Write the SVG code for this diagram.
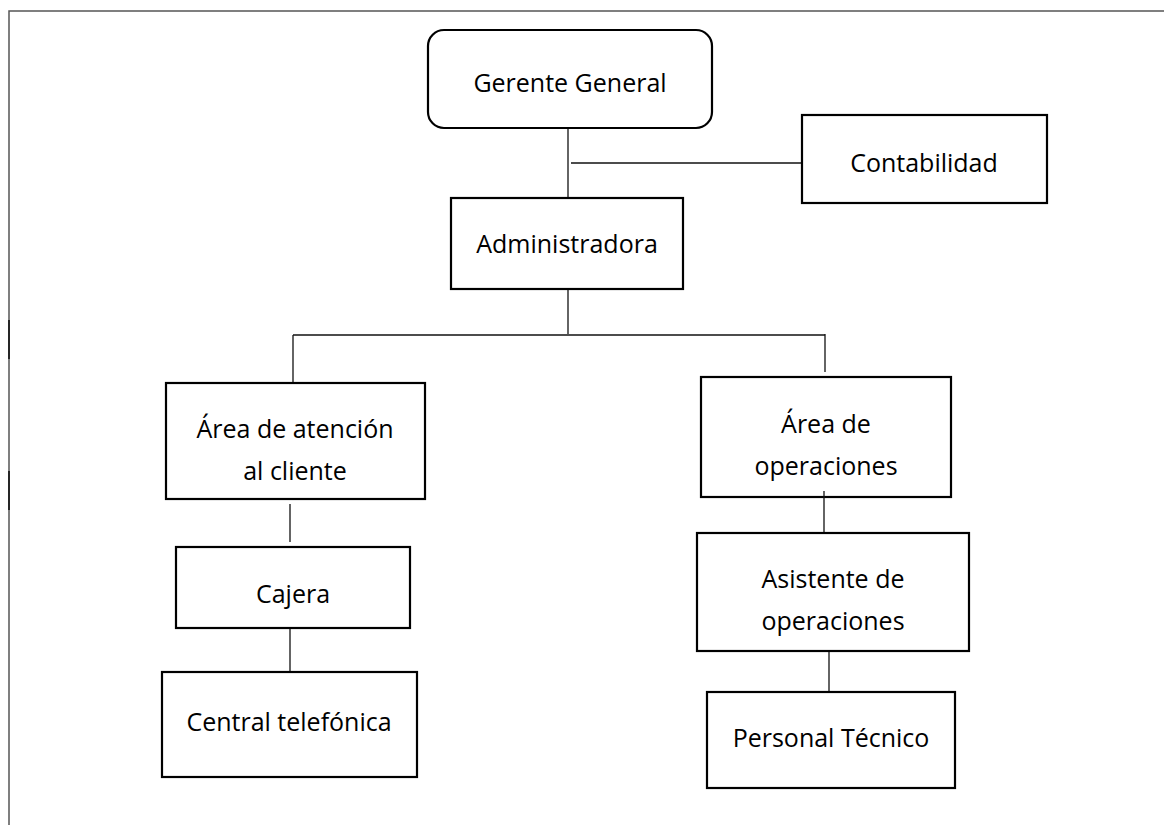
<svg xmlns="http://www.w3.org/2000/svg" width="1164" height="825" viewBox="0 0 1164 825">
<style>
.box{fill:#fff;stroke:#000;stroke-width:2.2}
.t{font-family:"Open Sans","Noto Sans",sans-serif;font-size:25px;fill:#000;text-anchor:middle}
.c{stroke:#111;stroke-width:1.3;fill:none}
.frame{stroke:#555;stroke-width:1.5;fill:none}
</style>
<rect width="1164" height="825" fill="#fff"/>
<g id="frame">
<path class="frame" d="M9,825 V11 H1164"/>
<path d="M9,320 V359 M9,471 V510" stroke="#111" stroke-width="1.6"/>
</g>
<g id="gerente">
<rect class="box" x="428" y="30" width="284" height="98" rx="16"/>
<text class="t" x="570" y="92">Gerente General</text>
</g>
<g id="contabilidad">
<rect class="box" x="802" y="115" width="245" height="88"/>
<text class="t" x="924" y="172">Contabilidad</text>
</g>
<g id="administradora">
<rect class="box" x="451" y="198" width="232" height="91"/>
<text class="t" x="567" y="253">Administradora</text>
</g>
<g id="atencion">
<rect class="box" x="166" y="383" width="259" height="116"/>
<text class="t" x="295" y="438">Área de atención</text>
<text class="t" x="295" y="480">al cliente</text>
</g>
<g id="operaciones">
<rect class="box" x="701" y="377" width="250" height="120"/>
<text class="t" x="826" y="433">Área de</text>
<text class="t" x="826" y="475">operaciones</text>
</g>
<g id="cajera">
<rect class="box" x="176" y="547" width="234" height="81"/>
<text class="t" x="293" y="603">Cajera</text>
</g>
<g id="central">
<rect class="box" x="162" y="672" width="255" height="105"/>
<text class="t" x="289" y="731">Central telefónica</text>
</g>
<g id="asistente">
<rect class="box" x="697" y="533" width="272" height="118"/>
<text class="t" x="833" y="588">Asistente de</text>
<text class="t" x="833" y="630">operaciones</text>
</g>
<g id="personal">
<rect class="box" x="707" y="692" width="248" height="96"/>
<text class="t" x="831" y="747">Personal Técnico</text>
</g>
<g id="connectors">
<path class="c" d="M568,129 V197"/>
<path class="c" d="M571,163 H801"/>
<path class="c" d="M568,290 V334"/>
<path class="c" d="M293,335 H825"/>
<path class="c" d="M293,335 V382"/>
<path class="c" d="M825,334 V372"/>
<path class="c" d="M290,504 V542"/>
<path class="c" d="M824,491 V532"/>
<path class="c" d="M829,652 V691"/>
<path class="c" d="M290,629 V671"/>
</g>
</svg>
